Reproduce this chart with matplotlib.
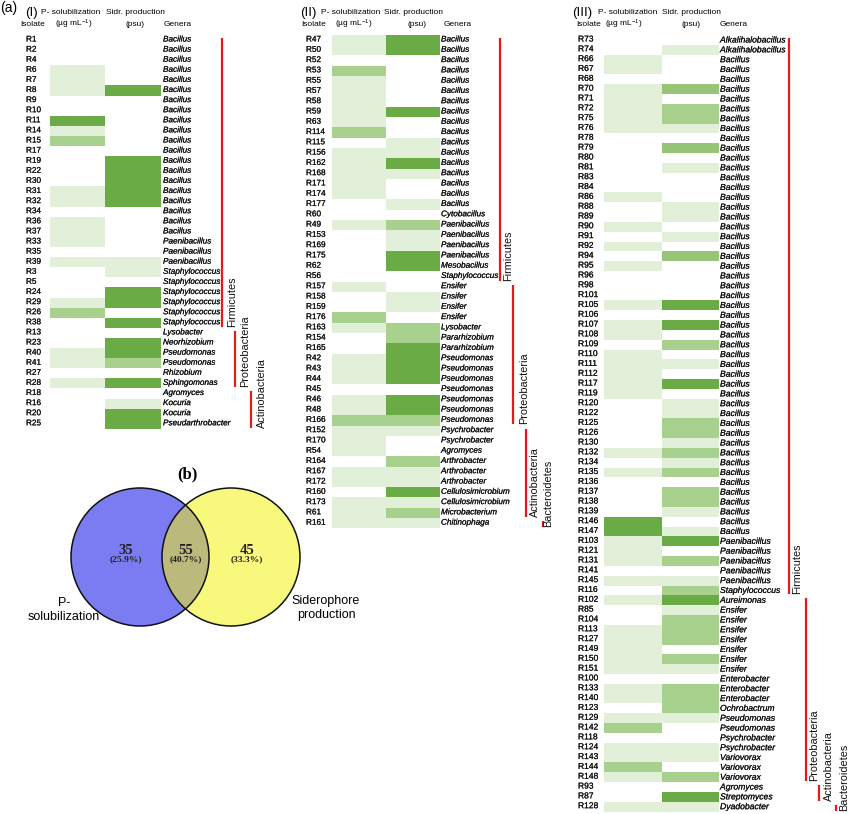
import numpy as np
import matplotlib
matplotlib.use("Agg")
import matplotlib.pyplot as plt
from matplotlib.colors import LinearSegmentedColormap
from matplotlib.patches import Circle
import matplotlib.transforms as mtransforms
import matplotlib.patheffects as pe

plt.rcParams['font.family'] = ['Liberation Sans', 'DejaVu Sans']
plt.rcParams['mathtext.default'] = 'regular'

# ---------------- data ----------------
# Panel (I)
iso_1 = ["R1", "R2", "R4", "R6", "R7", "R8", "R9", "R10", "R11", "R14", "R15", "R17", "R19",
         "R22", "R30", "R31", "R32", "R34", "R36", "R37", "R33", "R35", "R39", "R3", "R5",
         "R24", "R29", "R26", "R38", "R13", "R23", "R40", "R41", "R27", "R28", "R18", "R16",
         "R20", "R25"]
gen_1 = (["Bacillus"] * 20 + ["Paenibacillus"] * 3 + ["Staphylococcus"] * 6 +
         ["Lysobacter", "Neorhizobium", "Pseudomonas", "Pseudomonas", "Rhizobium",
          "Sphingomonas", "Agromyces", "Kocuria", "Kocuria", "Pseudarthrobacter"])
psol_1 = [0, 0, 0, 1, 1, 1, 0, 0, 3, 1, 2, 0, 0, 0, 0, 1, 1, 0, 1, 1, 1, 0, 1, 0, 0, 0, 1, 2,
          0, 0, 0, 1, 1, 0, 1, 0, 0, 0, 0]
sidr_1 = [0, 0, 0, 0, 0, 3, 0, 0, 0, 0, 0, 0, 3, 3, 3, 3, 3, 0, 0, 0, 0, 0, 1, 1, 0, 3, 3, 0,
          3, 0, 3, 3, 2, 0, 3, 0, 1, 3, 3]
phyla_1 = ["Firmicutes", "Proteobacteria", "Actinobacteria"]
phyla_n_1 = [29, 6, 4]

# Panel (II)
iso_2 = ["R47", "R50", "R52", "R53", "R55", "R57", "R58", "R59", "R63", "R114", "R115", "R156",
         "R162", "R168", "R171", "R174", "R177", "R60", "R49", "R153", "R169", "R175", "R62",
         "R56", "R157", "R158", "R159", "R176", "R163", "R154", "R165", "R42", "R43", "R44",
         "R45", "R46", "R48", "R166", "R152", "R170", "R54", "R164", "R167", "R172", "R160",
         "R173", "R61", "R161"]
gen_2 = (["Bacillus"] * 17 + ["Cytobacillus"] + ["Paenibacillus"] * 4 +
         ["Mesobacillus", "Staphylococcus"] + ["Ensifer"] * 4 +
         ["Lysobacter", "Pararhizobium", "Pararhizobium"] + ["Pseudomonas"] * 7 +
         ["Psychrobacter"] * 2 + ["Agromyces"] + ["Arthrobacter"] * 3 +
         ["Cellulosimicrobium"] * 2 + ["Microbacterium", "Chitinophaga"])
psol_2 = [1, 1, 0, 2, 1, 1, 1, 1, 1, 2, 0, 1, 1, 1, 1, 1, 0, 0, 1, 0, 0, 0, 0, 0, 1, 0, 0, 2,
          1, 0, 0, 1, 1, 1, 0, 1, 1, 2, 1, 1, 1, 0, 1, 1, 0, 1, 1, 1]
sidr_2 = [3, 3, 0, 0, 0, 0, 0, 3, 0, 0, 1, 1, 3, 1, 0, 0, 1, 0, 2, 1, 1, 3, 3, 0, 0, 1, 1, 0,
          2, 2, 3, 3, 3, 3, 0, 3, 3, 2, 1, 0, 0, 2, 1, 1, 3, 1, 2, 1]
phyla_2 = ["Firmicutes", "Proteobacteria", "Actinobacteria", "Bacteroidetes"]
phyla_n_2 = [24, 14, 9, 1]

# Panel (III)
iso_3 = ["R73", "R74", "R66", "R67", "R68", "R70", "R71", "R72", "R75", "R76", "R78", "R79",
         "R80", "R81", "R83", "R84", "R86", "R88", "R89", "R90", "R91", "R92", "R94", "R95",
         "R96", "R98", "R101", "R105", "R106", "R107", "R108", "R109", "R110", "R111", "R112",
         "R117", "R119", "R120", "R122", "R125", "R126", "R130", "R132", "R134", "R135",
         "R136", "R137", "R138", "R139", "R146", "R147", "R103", "R121", "R131", "R141",
         "R145", "R116", "R102", "R85", "R104", "R113", "R127", "R149", "R150", "R151",
         "R100", "R133", "R140", "R123", "R129", "R142", "R118", "R124", "R143", "R144",
         "R148", "R93", "R87", "R128"]
gen_3 = (["Alkalihalobacillus"] * 2 + ["Bacillus"] * 49 + ["Paenibacillus"] * 5 +
         ["Staphylococcus", "Aureimonas"] + ["Ensifer"] * 7 + ["Enterobacter"] * 3 +
         ["Ochrobactrum"] + ["Pseudomonas"] * 2 + ["Psychrobacter"] * 2 +
         ["Variovorax"] * 3 + ["Agromyces", "Streptomyces", "Dyadobacter"])
psol_3 = [0, 0, 1, 1, 0, 1, 1, 1, 1, 1,
          0, 0, 0, 0, 0, 0, 1, 0, 0, 1,
          0, 1, 0, 1, 0, 0, 0, 1, 0, 1,
          1, 0, 1, 1, 1, 1, 1, 0, 0, 0,
          0, 0, 1, 0, 1, 0, 0, 0, 0, 3,
          3, 1, 1, 1, 0, 1, 0,
          1, 0, 0, 1, 1, 1, 1, 1,
          0, 1, 1, 0, 1, 2, 0, 1, 1, 2, 1,
          0, 0, 1]
sidr_3 = [0, 1, 0, 0, 0, 2.3, 0, 2, 2, 1,
          0, 2.3, 0, 1, 0, 0, 0, 1, 1, 0,
          1, 0, 2.3, 0, 0, 0, 0, 3, 0, 3,
          0, 2, 0, 1, 0, 3, 0, 1, 1, 2,
          2, 1, 2, 1, 2, 0, 2, 2, 1, 0,
          1, 3, 0, 2, 0, 1, 2,
          3, 1, 2, 2, 2, 0, 2, 1,
          0, 2, 2, 2, 1, 0, 0, 1, 1, 0, 2,
          0, 3, 1]
phyla_3 = ["Firmicutes", "Proteobacteria", "Actinobacteria", "Bacteroidetes"]
phyla_n_3 = [57, 19, 2, 1]

# Venn counts
venn_labels = ["P-\nsolubilization", "Siderophore\nproduction"]
only_p, both, only_s = 35, 55, 45

# ---------------- figure ----------------
W, H = 850, 814
fig = plt.figure(figsize=(W / 100, H / 100), dpi=100)
fig.patch.set_facecolor("white")

cmap = LinearSegmentedColormap.from_list(
    "grn", [(0, "#ffffff"), (1 / 3, "#e2efd9"), (2 / 3, "#a9d18e"), (1, "#6aab46")])
RED = "#e31b1b"
TXT = "#111111"
thick = [pe.withStroke(linewidth=0.12, foreground=TXT)]


def fx(x):
    return x / W


def fy(y):
    return 1 - y / H


def panel(iso, gen, psol, sidr, phyla, phyla_n, left, right, top, bottom,
          iso_x, gen_x, line_x, lab_x, row_fs, gen_fs):
    ax = fig.add_axes([fx(left), fy(bottom), (right - left) / W, (bottom - top) / H])
    n = len(iso)
    data = np.array([psol, sidr], dtype=float).T
    ax.pcolormesh(data, cmap=cmap, vmin=0, vmax=3, edgecolors="none")
    ax.set_xlim(0, 2)
    ax.set_ylim(n, 0)
    ax.axis("off")
    tr = mtransforms.blended_transform_factory(fig.transFigure, ax.transData)
    for i in range(n):
        ax.text(fx(iso_x), i + 0.5, iso[i], transform=tr, ha="left", va="center",
                fontsize=row_fs, color=TXT, path_effects=thick)
        ax.text(fx(gen_x), i + 0.5, gen[i], transform=tr, ha="left", va="center",
                fontsize=gen_fs, style="italic", color=TXT, path_effects=thick)
    start = 0
    for k, (name, cnt) in enumerate(zip(phyla, phyla_n)):
        end = start + cnt
        y0 = start + 0.3
        y1 = end - 0.1
        ax.plot([fx(line_x[k])] * 2, [y0, y1], transform=tr, color=RED, lw=1.6,
                clip_on=False, solid_capstyle="butt")
        ax.text(fx(lab_x[k]), y1, name, transform=tr, rotation=90, ha="center",
                va="bottom", fontsize=7.8, color="#111111")
        start = end
    return ax


panel(iso_1, gen_1, psol_1, sidr_1, phyla_1, phyla_n_1,
      50, 161, 34.95, 428.85, 26, 163, [222, 235, 251], [232, 245, 262], 5.9, 5.9)
panel(iso_2, gen_2, psol_2, sidr_2, phyla_2, phyla_n_2,
      331.7, 440, 34.86, 528.3, 306, 441, [500, 513, 525.7, 542.7], [508, 524, 535, 548],
      5.9, 5.9)
panel(iso_3, gen_3, psol_3, sidr_3, phyla_3, phyla_n_3,
      604, 719.3, 35.1, 811.6, 578, 720, [789, 805.7, 819, 835.7], [797, 814, 829, 844],
      6.1, 6.2)

# headers
hdr_fs = 6.0
fig.text(fx(0), fy(8), "(a)", fontsize=10, ha="left", va="center")
for (lab, xl, xp, xs, xi, xu, xpsu, xg) in [
        ("(I)", 25, 41, 106, 20, 55, 125, 164),
        ("(II)", 300, 321, 384, 301, 335, 408, 444),
        ("(III)", 572, 598, 662, 576, 605, 682, 720)]:
    fig.text(fx(xl), fy(13), lab, fontsize=9.5, ha="left", va="center")
    fig.text(fx(xp), fy(13), "P- solubilization", fontsize=hdr_fs, ha="left", va="center")
    fig.text(fx(xs), fy(13), "Sidr. production", fontsize=hdr_fs, ha="left", va="center")
    fig.text(fx(xi), fy(24), "Isolate", fontsize=hdr_fs, ha="left", va="center")
    fig.text(fx(xu), fy(24.5), "(µg mL$^{-1}$)", fontsize=hdr_fs, ha="left", va="center")
    fig.text(fx(xpsu), fy(24), "(psu)", fontsize=hdr_fs, ha="left", va="center")
    fig.text(fx(xg), fy(24), "Genera", fontsize=hdr_fs, ha="left", va="center")

# ---------------- Venn ----------------
vx0, vx1, vy0, vy1 = 20, 370, 460, 640
axv = fig.add_axes([fx(vx0), fy(vy1), (vx1 - vx0) / W, (vy1 - vy0) / H])
axv.set_xlim(vx0, vx1)
axv.set_ylim(vy1, vy0)
axv.axis("off")
r = 69
cb = (140, 557)
cy = (231, 557)
c_blue = Circle(cb, r, facecolor="#7b7bf2", edgecolor="none")
c_yel = Circle(cy, r, facecolor="#f8f87c", edgecolor="none")
axv.add_patch(c_blue)
axv.add_patch(c_yel)
c_int = Circle(cb, r, facecolor="#bbb97c", edgecolor="none")
axv.add_patch(c_int)
c_int.set_clip_path(Circle(cy, r, transform=axv.transData))
for c in (cb, cy):
    axv.add_patch(Circle(c, r, facecolor="none", edgecolor="#111111", lw=1.1))

total = only_p + both + only_s
for val, xx in [(only_p, 126), (both, 186), (only_s, 247)]:
    axv.text(xx, 550, f"{val}", ha="center", va="center", fontsize=10.5,
             family="Liberation Serif", weight="bold", color="#222222")
    axv.text(xx, 559.5, f"({val / total * 100:.1f}%)", ha="center", va="center",
             fontsize=6.8, family="Liberation Serif", weight="bold", color="#222222")
axv.text(187, 474, "(b)", ha="center", va="center", fontsize=12,
         family="Liberation Serif", weight="bold")
axv.text(64, 610, venn_labels[0], ha="center", va="center", fontsize=9, linespacing=1.15)
axv.text(326, 608, venn_labels[1], ha="center", va="center", fontsize=9, linespacing=1.15)

fig.savefig("out.png", dpi=100, facecolor="white")
